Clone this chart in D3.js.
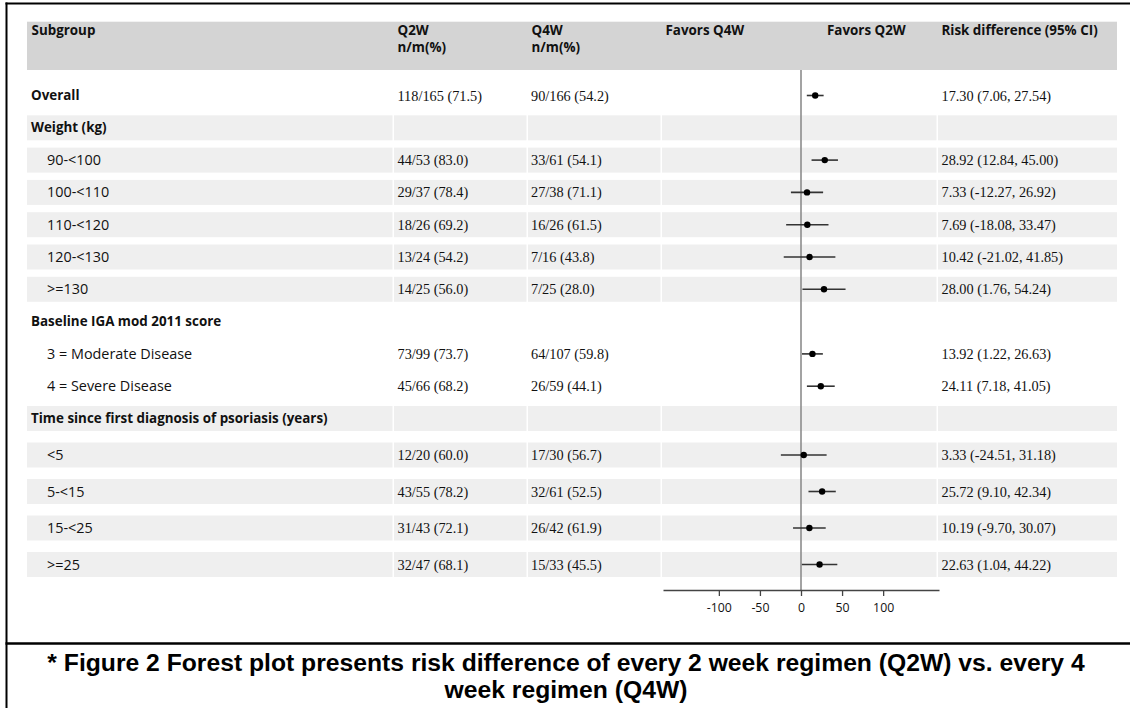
<!DOCTYPE html>
<html>
<head>
<meta charset="utf-8">
<script src="https://cdn.jsdelivr.net/npm/d3@7/dist/d3.min.js"></script>
<style>
  html, body { margin: 0; padding: 0; background: #fff; }
  svg { display: block; }
</style>
</head>
<body>
<svg id="chart" width="1130" height="708"></svg>
<script>
// ---------------- DATA ----------------
const subgroupLabels = [
  "Overall",
  "Weight (kg)", "90-<100", "100-<110", "110-<120", "120-<130", ">=130",
  "Baseline IGA mod 2011 score", "3 = Moderate Disease", "4 = Severe Disease",
  "Time since first diagnosis of psoriasis (years)", "<5", "5-<15", "15-<25", ">=25"
];
const rowKind = [
  "overall",
  "group", "sub", "sub", "sub", "sub", "sub",
  "group", "sub", "sub",
  "group", "sub", "sub", "sub", "sub"
];
const rowGroup = [0, 1, 1, 1, 1, 1, 1, 2, 2, 2, 3, 3, 3, 3, 3];
const q2wText = [
  "118/165 (71.5)",
  "", "44/53 (83.0)", "29/37 (78.4)", "18/26 (69.2)", "13/24 (54.2)", "14/25 (56.0)",
  "", "73/99 (73.7)", "45/66 (68.2)",
  "", "12/20 (60.0)", "43/55 (78.2)", "31/43 (72.1)", "32/47 (68.1)"
];
const q4wText = [
  "90/166 (54.2)",
  "", "33/61 (54.1)", "27/38 (71.1)", "16/26 (61.5)", "7/16 (43.8)", "7/25 (28.0)",
  "", "64/107 (59.8)", "26/59 (44.1)",
  "", "17/30 (56.7)", "32/61 (52.5)", "26/42 (61.9)", "15/33 (45.5)"
];
const riskDiff = [17.30, null, 28.92, 7.33, 7.69, 10.42, 28.00, null, 13.92, 24.11, null, 3.33, 25.72, 10.19, 22.63];
const ciLower  = [7.06, null, 12.84, -12.27, -18.08, -21.02, 1.76, null, 1.22, 7.18, null, -24.51, 9.10, -9.70, 1.04];
const ciUpper  = [27.54, null, 45.00, 26.92, 33.47, 41.85, 54.24, null, 26.63, 41.05, null, 31.18, 42.34, 30.07, 44.22];
const axisTicks = [-100, -50, 0, 50, 100];
const headerTitles = ["Subgroup", "Q2W", "Q4W", "Favors Q4W", "Favors Q2W", "Risk difference (95% CI)"];
const headerSub = ["", "n/m(%)", "n/m(%)", "", "", ""];
const captionLines = [
  "* Figure 2 Forest plot presents risk difference of every 2 week regimen (Q2W) vs. every 4",
  "week regimen (Q4W)"
];

// ---------------- LAYOUT ----------------
const W = 1130, H = 708;
const SANS = "'Open Sans', 'Liberation Sans', Arial, sans-serif";
const SERIF = "'Liberation Serif', 'Times New Roman', serif";
const col = { sub: 27, q2w: 394, q4w: 528, plot: 662, rd: 938, end: 1117 };
const gap = 1.5;
const headerTop = 21.7, headerBottom = 70;
const axisY = 590;
const bandH = 25;

const svg = d3.select("#chart");
svg.append("rect").attr("width", W).attr("height", H).attr("fill", "#fff");

const idx = subgroupLabels.map((d, i) => i);
const y = d3.scaleLinear().domain([0, 10, 14]).range([95.5, 418.5, 564.5]);
const x = d3.scaleLinear().domain([-168, 168]).range([663, 939]);

// header band
svg.append("rect")
  .attr("x", col.sub).attr("y", headerTop)
  .attr("width", col.end - col.sub).attr("height", headerBottom - headerTop)
  .attr("fill", "#d4d4d4");

// row bands (shaded for alternate groups)
const segs = [[col.sub, col.q2w], [col.q2w, col.q4w], [col.q4w, col.plot], [col.plot, col.rd], [col.rd, col.end]];
const shaded = idx.filter(i => rowGroup[i] % 2 === 1);
const bandG = svg.append("g");
shaded.forEach(i => {
  segs.forEach(([a, b], k) => {
    bandG.append("rect")
      .attr("x", a).attr("y", y(i) - bandH / 2)
      .attr("width", (b - a) - (k < segs.length - 1 ? gap : 0))
      .attr("height", bandH)
      .attr("fill", "#efefef");
  });
});

// header text
const headX = [col.sub + 4.5, col.q2w + 3.5, col.q4w + 3.5, col.plot + 3.5, col.plot + 165, col.rd + 3.5];
const hg = svg.append("g").attr("font-family", SANS).attr("font-weight", "bold").attr("font-size", "13.4px").attr("fill", "#111");
headerTitles.forEach((t, k) => {
  hg.append("text").attr("x", headX[k]).attr("y", 34.8).text(t);
  if (headerSub[k]) hg.append("text").attr("x", headX[k]).attr("y", 51.5).text(headerSub[k]);
});

// subgroup labels
svg.append("g").selectAll("text").data(idx).join("text")
  .attr("x", i => rowKind[i] === "sub" ? col.sub + 20 : col.sub + 4)
  .attr("y", i => y(i))
  .attr("dy", "0.35em")
  .attr("font-family", SANS)
  .attr("font-weight", i => rowKind[i] === "sub" ? "normal" : "bold")
  .attr("font-size", i => rowKind[i] === "sub" ? "14.4px" : "13.4px")
  .attr("fill", "#111")
  .text(i => subgroupLabels[i]);

// numeric columns
const numG = svg.append("g").attr("font-family", SERIF).attr("font-size", "14.3px").attr("fill", "#111");
numG.selectAll("text.q2").data(idx.filter(i => q2wText[i])).join("text")
  .attr("class", "q2").attr("x", col.q2w + 3.5).attr("y", i => y(i)).attr("dy", "0.35em").text(i => q2wText[i]);
numG.selectAll("text.q4").data(idx.filter(i => q4wText[i])).join("text")
  .attr("class", "q4").attr("x", col.q4w + 3).attr("y", i => y(i)).attr("dy", "0.35em").text(i => q4wText[i]);
const f2 = d3.format(".2f");
const fmt = v => f2(v).replace("−", "-");
numG.selectAll("text.rd").data(idx.filter(i => riskDiff[i] != null)).join("text")
  .attr("class", "rd").attr("x", col.rd + 3.5).attr("y", i => y(i)).attr("dy", "0.35em")
  .text(i => `${fmt(riskDiff[i])} (${fmt(ciLower[i])}, ${fmt(ciUpper[i])})`);

// zero reference line
svg.append("line")
  .attr("x1", x(0)).attr("x2", x(0))
  .attr("y1", headerBottom).attr("y2", axisY)
  .attr("stroke", "#8c8c8c").attr("stroke-width", 1.6);

// CI lines and points
const est = idx.filter(i => riskDiff[i] != null);
svg.append("g").selectAll("line").data(est).join("line")
  .attr("x1", i => x(ciLower[i])).attr("x2", i => x(ciUpper[i]))
  .attr("y1", i => y(i)).attr("y2", i => y(i))
  .attr("stroke", "#333").attr("stroke-width", 1.6);
svg.append("g").selectAll("circle").data(est).join("circle")
  .attr("cx", i => x(riskDiff[i])).attr("cy", i => y(i)).attr("r", 3.2)
  .attr("fill", "#000");

// axis
const axis = d3.axisBottom(x).tickValues(axisTicks).tickSize(6).tickSizeOuter(0).tickFormat(d => String(d));
const ag = svg.append("g").attr("transform", `translate(0,${axisY})`).call(axis);
ag.select(".domain").attr("stroke", "#444").attr("stroke-width", 1.5);
ag.selectAll(".tick line").attr("stroke", "#444").attr("stroke-width", 1.3);
ag.selectAll(".tick text").attr("font-family", SANS).attr("font-size", "12.3px").attr("fill", "#111").attr("dy", "1.05em");

// frame
const fr = svg.append("g").attr("stroke", "#000").attr("fill", "none");
fr.append("line").attr("x1", 5.5).attr("x2", W).attr("y1", 3.5).attr("y2", 3.5).attr("stroke-width", 2);
fr.append("line").attr("x1", 6.5).attr("x2", 6.5).attr("y1", 2.5).attr("y2", H).attr("stroke-width", 2);
fr.append("line").attr("x1", 5.5).attr("x2", W).attr("y1", 643.5).attr("y2", 643.5).attr("stroke-width", 2.5);

// caption
svg.append("g").attr("font-family", "'Liberation Sans', Arial, sans-serif").attr("font-weight", "bold")
  .attr("font-size", "24.7px").attr("fill", "#000").attr("text-anchor", "middle")
  .selectAll("text").data(captionLines).join("text")
  .attr("x", 566).attr("y", (d, i) => 671 + i * 27).text(d => d);
</script>
</body>
</html>
